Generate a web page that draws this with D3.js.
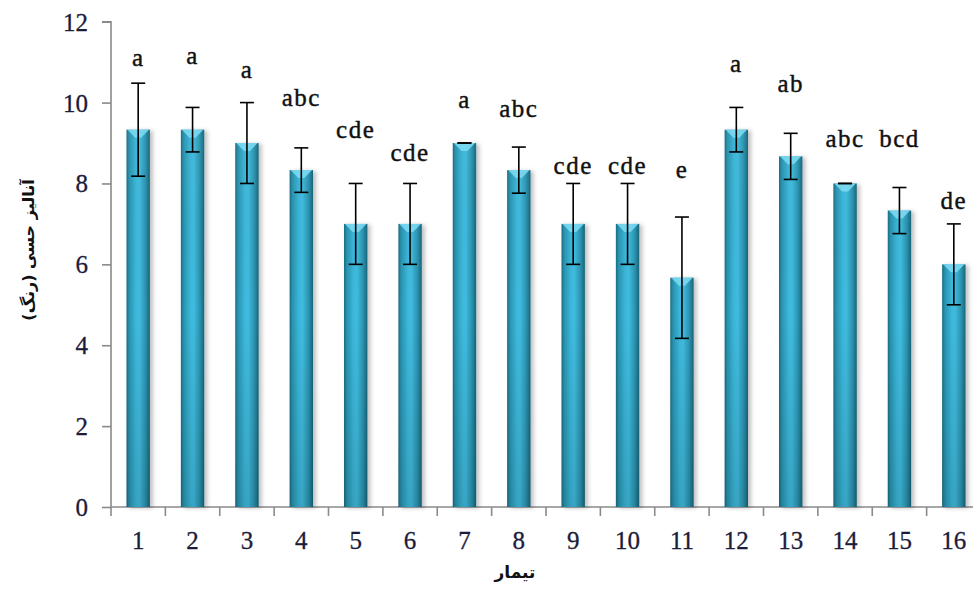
<!DOCTYPE html>
<html><head><meta charset="utf-8">
<script src="https://cdn.jsdelivr.net/npm/d3@7"></script>
<style>html,body{margin:0;padding:0;background:#fff;overflow:hidden}
.serif{font-family:'Liberation Serif','Times New Roman',Times,serif !important}</style>
</head><body>
<svg id="chart" width="973" height="589"></svg>
<script>
const categories = ['1','2','3','4','5','6','7','8','9','10','11','12','13','14','15','16'];
const means = [9.33, 9.33, 9.0, 8.33, 7.0, 7.0, 9.0, 8.33, 7.0, 7.0, 5.67, 9.33, 8.67, 8.0, 7.33, 6.0];
const errors = [1.15, 0.55, 1.0, 0.55, 1.0, 1.0, 0, 0.57, 1.0, 1.0, 1.5, 0.55, 0.57, 0, 0.57, 1.0];
const letters = ['a','a','a','abc','cde','cde','a','abc','cde','cde','e','a','ab','abc','bcd','de'];
const letterLevels = [11.08, 11.13, 10.79, 10.11, 9.32, 8.73, 10.06, 9.82, 8.43, 8.43, 8.33, 10.93, 10.44, 9.08, 9.08, 7.55];
const yTicks = [0, 2, 4, 6, 8, 10, 12];
const yTitle = 'آنالیز حسی (رنگ)';
const xTitle = 'تیمار';

const svg = d3.select('#chart');
const pLeft = 111, pRight = 981, pTop = 21.7, pBottom = 507;

const x = d3.scaleBand().domain(categories).range([pLeft, pRight]).paddingInner(0.57).paddingOuter(0.285);
const xb = d3.scaleBand().domain(categories).range([pLeft, pRight]).padding(0);
const y = d3.scaleLinear().domain([0, 12]).range([pBottom, pTop]);

const defs = svg.append('defs');
const hg = defs.append('linearGradient').attr('id','hg').attr('x1','0').attr('x2','1').attr('y1','0').attr('y2','0');
[['0%','#1a6c84'],['12%','#2994b0'],['40%','#3bb7da'],['55%','#40bce0'],['82%','#2a93ae'],['100%','#17647a']]
  .forEach(([o,c]) => hg.append('stop').attr('offset',o).attr('stop-color',c));
const vg = defs.append('linearGradient').attr('id','vg').attr('gradientUnits','userSpaceOnUse')
  .attr('x1',0).attr('x2',0).attr('y1',pTop).attr('y2',pBottom);
vg.append('stop').attr('offset','0%').attr('stop-color','#ffffff').attr('stop-opacity',0.08);
vg.append('stop').attr('offset','60%').attr('stop-color','#000000').attr('stop-opacity',0.0);
vg.append('stop').attr('offset','100%').attr('stop-color','#000000').attr('stop-opacity',0.12);
const f = defs.append('filter').attr('id','sh').attr('x','-30%').attr('y','-5%').attr('width','170%').attr('height','110%');
f.append('feDropShadow').attr('dx',3).attr('dy',1).attr('stdDeviation',2.2).attr('flood-color','#000').attr('flood-opacity',0.25);

// axes
const yAxis = d3.axisLeft(y).tickValues(yTicks).tickSize(9).tickPadding(14).tickFormat(d3.format('d'));
const gy = svg.append('g').attr('transform',`translate(${pLeft},0)`).call(yAxis);
gy.attr('font-family', null).attr('font-size', null);
gy.select('.domain').attr('stroke','#8a8a8a').attr('stroke-width',1.6).attr('d',`M-9,${pTop}H0V${pBottom}`);
gy.selectAll('.tick line').attr('stroke','#8a8a8a').attr('stroke-width',1.6);
gy.selectAll('.tick text').attr('class','serif').style('font-size','25px').attr('fill','#1c1c3a')
  .attr('stroke','#1c1c3a').attr('stroke-width',0.3).attr('dy','0.34em');

const gx = svg.append('g').attr('transform',`translate(0,${pBottom})`);
gx.append('line').attr('x1',pLeft).attr('x2',pRight).attr('y1',0).attr('y2',0).attr('stroke','#8a8a8a').attr('stroke-width',1.6);
const bounds = categories.map(c => xb(c)).concat([pRight]);
gx.selectAll('line.t').data(bounds).join('line').attr('class','t')
  .attr('x1',d=>d).attr('x2',d=>d).attr('y1',0).attr('y2',9).attr('stroke','#8a8a8a').attr('stroke-width',1.6);
gx.selectAll('text').data(categories).join('text').attr('class','serif')
  .attr('x',d=>x(d)+x.bandwidth()/2).attr('y',42).attr('text-anchor','middle')
  .style('font-size','25px').attr('fill','#1c1c3a').attr('stroke','#1c1c3a').attr('stroke-width',0.3).text(d=>d);

// bars
const bars = svg.append('g');
const bw = x.bandwidth();
bars.selectAll('rect.bar').data(categories).join('rect').attr('class','bar')
  .attr('x',d=>x(d)).attr('width',bw).attr('y',(d,i)=>y(means[i])).attr('height',(d,i)=>y(0)-y(means[i]))
  .attr('fill','url(#hg)').attr('filter','url(#sh)');
bars.selectAll('rect.ov').data(categories).join('rect').attr('class','ov')
  .attr('x',d=>x(d)).attr('width',bw).attr('y',(d,i)=>y(means[i])).attr('height',(d,i)=>y(0)-y(means[i]))
  .attr('fill','url(#vg)');
bars.selectAll('path.cap').data(categories).join('path').attr('class','cap')
  .attr('d',(d,i)=>{const x0=x(d), yt=y(means[i]); return `M${x0+1},${yt}H${x0+bw-1}L${x0+bw/2+3},${yt+8}H${x0+bw/2-3}Z`;})
  .attr('fill','#7fdcf4').attr('opacity',0.85);

// error bars
const eb = svg.append('g').attr('stroke','#000').attr('stroke-width',1.6);
categories.forEach((c,i)=>{
  const cx = x(c)+bw/2, hi = y(means[i]+errors[i]), lo = y(means[i]-errors[i]);
  if (errors[i] > 0) eb.append('line').attr('x1',cx).attr('x2',cx).attr('y1',hi).attr('y2',lo);
  eb.append('line').attr('x1',cx-7).attr('x2',cx+7).attr('y1',hi).attr('y2',hi);
  eb.append('line').attr('x1',cx-7).attr('x2',cx+7).attr('y1',lo).attr('y2',lo);
});

// letters
svg.append('g').selectAll('text').data(categories).join('text').attr('class','serif')
  .attr('x',d=>x(d)+bw/2).attr('y',(d,i)=>y(letterLevels[i])).attr('dy','0.3em')
  .attr('text-anchor','middle').style('font-size','25px')
  .attr('letter-spacing',1.5).attr('fill','#111').attr('stroke','#111').attr('stroke-width',0.4).text((d,i)=>letters[i]);

// titles
svg.append('text').attr('transform','translate(28,250) rotate(-90)').attr('dy','0.35em')
  .attr('text-anchor','middle').attr('direction','rtl').style('font-family','"DejaVu Sans", "Noto Sans", sans-serif')
  .attr('font-weight','bold').style('font-size','16px').attr('fill','#111').text(yTitle);
svg.append('text').attr('x',515).attr('y',578).attr('text-anchor','middle').attr('direction','rtl')
  .style('font-family','"DejaVu Sans", "Noto Sans", sans-serif').attr('font-weight','bold').style('font-size','17px')
  .attr('fill','#111').text(xTitle);
</script>
</body></html>
